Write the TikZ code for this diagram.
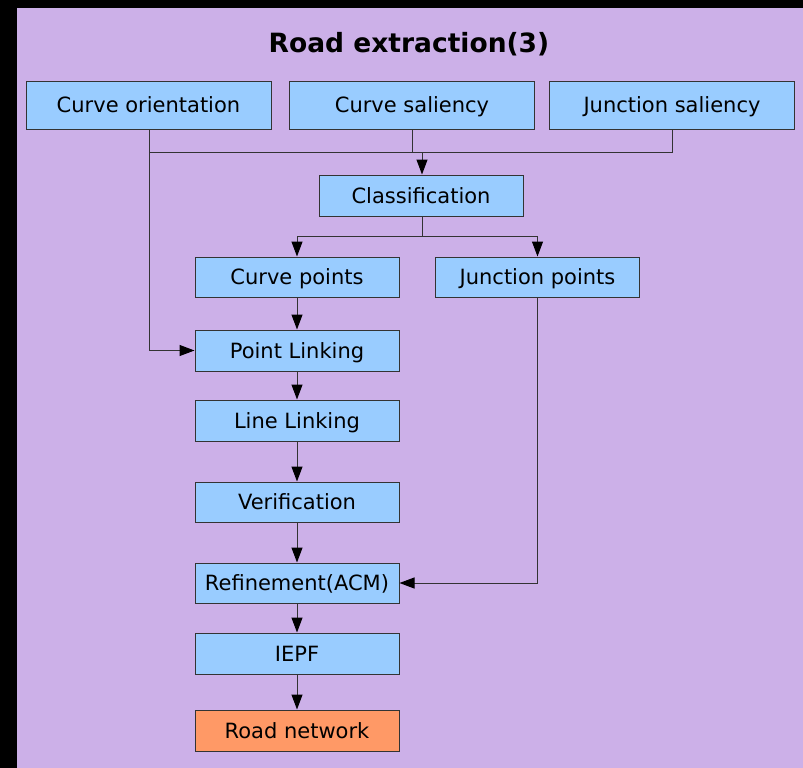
\documentclass[tikz,border=0pt]{standalone}
\usepackage{fontspec}
\setmainfont{DejaVu Sans}
\usetikzlibrary{arrows.meta}
\definecolor{bglav}{RGB}{204,176,232}
\definecolor{boxblue}{RGB}{153,204,255}
\definecolor{boxorange}{RGB}{255,153,102}
\definecolor{linegray}{RGB}{51,51,51}
\tikzset{
  box/.style={draw=linegray, line width=1pt, fill=boxblue, inner sep=0pt,
    minimum height=41pt, font=\fontsize{21}{24}\selectfont, text=black,
    text height=17pt, text depth=2pt},
  wide/.style={minimum width=245pt, minimum height=48pt},
  mid/.style={minimum width=204pt},
  conn/.style={draw=linegray, line width=1pt},
  arr/.style={conn, -{Triangle[width=11pt,length=15pt,fill=black,color=black]}},
}
\begin{document}
\begin{tikzpicture}[x=1pt,y=-1pt]
\fill[black] (0,0) rectangle (803,768);
\fill[bglav] (17,8) rectangle (803,768);
\useasboundingbox (0,0) rectangle (803,768);

\node[font=\bfseries\fontsize{26.5}{30}\selectfont] (title) at (409,44) {Road extraction(3)};

\node[box,wide] (co) at (148.5,105) {Curve orientation};
\node[box,wide] (cs) at (412,105) {Curve saliency};
\node[box,wide] (js) at (672,105) {Junction saliency};
\node[box,mid] (cl) at (421,195.5) {Classification};
\node[box,mid,minimum height=40pt] (cp) at (297,277) {Curve points};
\node[box,mid,minimum height=40pt] (jp) at (537.5,277) {Junction points};
\node[box,mid] (pl) at (297,350.5) {Point Linking};
\node[box,mid] (ll) at (297,420.5) {Line Linking};
\node[box,mid,minimum height=40pt] (ve) at (297,502) {Verification};
\node[box,mid,minimum height=40pt] (re) at (297,583) {Refinement(ACM)};
\node[box,mid] (ie) at (297,653.5) {IEPF};
\node[box,mid,fill=boxorange] (rn) at (297,730.5) {Road network};

\coordinate (b1) at (149,152);
\coordinate (b2) at (672,152);
\coordinate (b3) at (422,236);

\draw[conn] (co.south -| b1) -- (b1) -- (b2) -- (js.south);
\draw[conn] (cs.south) -- (cs.south |- b1);
\draw[arr] (b1 -| b3) -- (b3 |- cl.north);
\draw[arr] (b1) |- (pl.west);
\draw[conn] (b3 |- cl.south) -- (b3);
\draw[arr] (b3) -| (cp.north);
\draw[arr] (b3) -| (jp.north);
\draw[arr] (cp) -- (pl);
\draw[arr] (pl) -- (ll);
\draw[arr] (ll) -- (ve);
\draw[arr] (ve) -- (re);
\draw[arr] (re) -- (ie);
\draw[arr] (ie) -- (rn);
\draw[arr] (jp.south) |- (re.east);
\end{tikzpicture}
\end{document}
